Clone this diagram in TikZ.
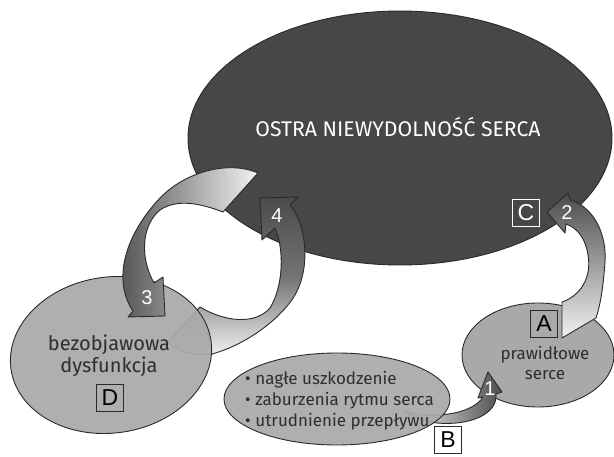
\documentclass[tikz,border=0pt]{standalone}
\usepackage{fontspec}
\setmainfont{Fira Sans}
\newfontfamily\arialf{Liberation Sans}
\usetikzlibrary{shapes.geometric}
\definecolor{darkell}{HTML}{474747}
\definecolor{lightell}{HTML}{A9A9A9}
\definecolor{edgec}{HTML}{2A2A2A}
\definecolor{txtc}{HTML}{2E2E2E}
\definecolor{adark}{HTML}{4C4C4C}
\definecolor{amid}{HTML}{737373}
\definecolor{alight}{HTML}{F2F2F2}
\begin{document}
\begin{tikzpicture}[x=1pt,y=-1pt,
  ell/.style={ellipse, draw=edgec, line width=0.9pt, inner sep=0pt},
  lbox/.style={draw=#1, line width=1.8pt, minimum width=27pt, minimum height=27pt, inner sep=0pt, font=\arialf\fontsize{23}{23}\selectfont},
  num/.style={text=white, font=\arialf\fontsize{20}{20}\selectfont, inner sep=0pt},
  barrow/.style={draw=edgec, line width=0.9pt, line join=round},
  etext/.style={text=txtc, align=center, inner sep=0pt}
]
\useasboundingbox (0,0) rectangle (614,457);

% big ellipse
\node[ell, fill=darkell, minimum width=424pt, minimum height=254pt] (big) at (400,138) {};

% arrow 4 (D -> big), tail under D
\path[barrow, top color=adark, bottom color=alight, middle color=amid]
  (200,307) -- (168,342) .. controls (178,352) and (195,356) .. (212,354)
  .. controls (245,345) and (280,320) .. (295,295)
  .. controls (312,265) and (305,222) .. (290,205)
  -- (298,197) -- (260,198) -- (262,240) -- (275,228)
  .. controls (284,248) and (284,285) .. (270,308)
  .. controls (255,325) and (225,322) .. (200,307) -- cycle;

% D ellipse
\node[ell, fill=lightell, fill opacity=0.93, draw opacity=1, minimum width=202pt, minimum height=156pt, rotate=8] (D) at (111,355) {};

% arrow 3 (big -> D)
\path[barrow, left color=adark, right color=alight]
  (258,173) .. controls (228,160) and (185,172) .. (160,198)
  .. controls (125,235) and (112,280) .. (133,311)
  -- (128,317) -- (165,316) -- (163,277) -- (154,283)
  .. controls (140,258) and (141,226) .. (160,210)
  .. controls (178,198) and (202,204) .. (223,212) -- cycle;

% A ellipse
\node[ell, fill=lightell, minimum width=152pt, minimum height=104pt] (A) at (538,355) {};

% arrow 2 (A -> big)
\path[barrow, top color=adark, bottom color=alight]
  (562,338) -- (562,302)
  .. controls (580,296) and (592,278) .. (588,255)
  .. controls (586,240) and (578,228) .. (566,224)
  -- (565,233) -- (547,212) -- (568,193) -- (570,200)
  .. controls (592,206) and (607,232) .. (605,262)
  .. controls (603,290) and (600,306) .. (596,318) -- cycle;

% arrow 1 (B -> A), tail under B
\path[barrow, left color=alight, right color=adark]
  (405,412) .. controls (440,420) and (474,412) .. (483,397)
  -- (478,398) -- (488,372) -- (502,392) -- (496,394)
  .. controls (498,414) and (470,426) .. (437,423)
  .. controls (425,421) and (413,418) .. (405,412) -- cycle;

% B ellipse
\node[ell, fill=lightell, fill opacity=0.93, draw opacity=1, minimum width=226pt, minimum height=92pt] (B) at (337,399) {};

% texts
\node[text=white, inner sep=0pt, font=\fontsize{21.2}{24}\selectfont] (title) at (398,127) {OSTRA NIEWYDOLNOŚĆ SERCA};
\node[etext, font=\fontsize{20}{22}\selectfont] (Dtxt) at (109,356) {bezobjawowa\\dysfunkcja};
\node[etext, font=\fontsize{17}{20}\selectfont] (Atxt) at (545,363) {prawidłowe\\serce};
\node[text=txtc, align=left, anchor=west, inner sep=0pt, font=\fontsize{17}{21}\selectfont] (Btxt) at (245,401)
  {•\;nagłe uszkodzenie\\•\;zaburzenia rytmu serca\\•\;utrudnienie przepływu};

% letter boxes
\node[lbox=edgec] (boxA) at (544,324) {A};
\node[lbox=edgec, fill=white] (boxB) at (448,440) {B};
\node[lbox=white, text=white] (boxC) at (526,213) {C};
\node[lbox=edgec] (boxD) at (110,398) {D};

% arrow numbers
\node[num] (n1) at (490,389) {1};
\node[num] (n2) at (567,213) {2};
\node[num] (n3) at (147,298) {3};
\node[num] (n4) at (277,216) {4};
\end{tikzpicture}
\end{document}
